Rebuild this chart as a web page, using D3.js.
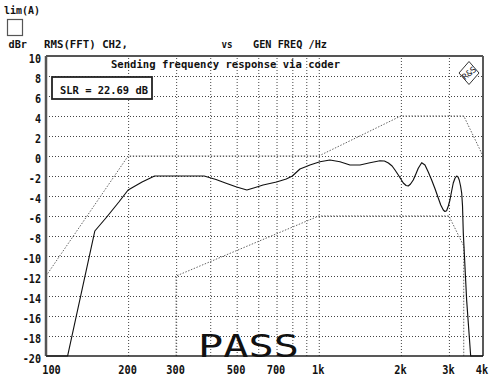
<!DOCTYPE html>
<html><head><meta charset="utf-8">
<script src="https://cdn.jsdelivr.net/npm/d3@7"></script>
<style>
html,body{margin:0;padding:0;background:#fff;}
svg{display:block;}
text{font-family:"DejaVu Sans Mono",monospace;fill:#111;}
</style></head><body>
<svg id="c" width="502" height="381"></svg>
<script>
// ---- data ----
const freqTicks = [100, 200, 300, 500, 700, 1000, 2000, 3000, 4000];
const freqLabels = ["100", "200", "300", "500", "700", "1k", "2k", "3k", "4k"];
const gridFreqs = [200, 300, 400, 500, 600, 700, 800, 900, 1000, 2000, 3000];
const dbTicks = [-20, -18, -16, -14, -12, -10, -8, -6, -4, -2, 0, 2, 4, 6, 8, 10];

const respFreq = [100, 120, 151, 167, 185, 200, 225, 250, 300, 380, 420, 460, 500, 545, 585, 625, 700, 760, 800, 853, 900, 928, 1010, 1099, 1196, 1301, 1416, 1540, 1676, 1740, 1800, 1857, 1903, 1957, 2041, 2090, 2128, 2170, 2220, 2270, 2316, 2384, 2451, 2520, 2593, 2670, 2742, 2800, 2861, 2900, 2942, 2985, 3026, 3070, 3112, 3160, 3203, 3240, 3273, 3310, 3341, 3365, 3387, 3484, 3605, 4000];
const respDb = [-20, -20, -7.5, -6.1, -4.6, -3.4, -2.6, -2.0, -2.0, -2.0, -2.35, -2.75, -3.1, -3.4, -3.15, -2.9, -2.6, -2.3, -2.0, -1.3, -1.05, -0.9, -0.57, -0.4, -0.57, -0.9, -0.9, -0.67, -0.47, -0.5, -0.7, -1.0, -1.4, -1.9, -2.7, -2.95, -3.0, -2.8, -2.4, -1.8, -1.23, -0.67, -0.9, -1.6, -2.4, -3.3, -4.2, -4.9, -5.4, -5.55, -5.47, -5.0, -4.4, -3.5, -2.7, -2.2, -2.0, -2.1, -2.4, -3.0, -3.7, -5.0, -7.7, -14.4, -20, -20];

const upperFreq = [100, 200, 1000, 2000, 3400, 4000];
const upperDb = [-12, 0, 0, 4, 4, 0];
const lowerFreq = [300, 300, 1000, 3000, 3400, 3400];
const lowerDb = [-20, -12, -6, -6, -9, -20];

const chartTitle = "Sending frequency response via coder";
const slrText = "SLR = 22.69 dB";
const verdict = "PASS";

// ---- layout ----
const X0 = 46, X1 = 483, Y0 = 56, Y1 = 356;
const svg = d3.select("#c");
const x = d3.scaleLog().domain([100, 4000]).range([X0, X1]);
const y = d3.scaleLinear().domain([-20, 10]).range([Y1, Y0]);

function txt(px, py, s, size, opts = {}) {
  const t = svg.append("text").attr("x", px).attr("y", py).text(s)
    .attr("font-size", size).attr("font-weight", opts.weight || "bold")
    .attr("text-anchor", opts.anchor || "start");
  if (opts.len) t.attr("textLength", opts.len).attr("lengthAdjust", "spacingAndGlyphs");
  return t;
}

// header texts
txt(4, 14, "lim(A)", 11, {len: 36});
svg.append("rect").attr("x", 7.5).attr("y", 19.5).attr("width", 15).attr("height", 16)
  .attr("fill", "none").attr("stroke", "#555").attr("stroke-width", 1.2);
txt(8.5, 47.5, "dBr", 11, {len: 18.5});
txt(44, 47.5, "RMS(FFT) CH2,", 11, {len: 84});
txt(221.5, 47.5, "vs", 11, {len: 11});
txt(253, 47.5, "GEN FREQ /Hz", 11, {len: 74});

// grid (via axes)
const gx = svg.append("g").attr("transform", `translate(0,${Y1})`)
  .call(d3.axisBottom(x).tickValues(gridFreqs).tickSize(-(Y1 - Y0)).tickFormat(""));
gx.select(".domain").remove();
gx.selectAll("line").attr("stroke", "#444").attr("stroke-width", 1).attr("stroke-dasharray", "1,2");
const gy = svg.append("g").attr("transform", `translate(${X0},0)`)
  .call(d3.axisLeft(y).tickValues(dbTicks.filter(d => d > -20 && d < 10)).tickSize(-(X1 - X0)).tickFormat(""));
gy.select(".domain").remove();
gy.selectAll("line").attr("stroke", "#444").attr("stroke-width", 1).attr("stroke-dasharray", "1,2");

// axes labels
const ay = svg.append("g").attr("transform", `translate(${X0},0)`)
  .call(d3.axisLeft(y).tickValues(dbTicks).tickSize(0).tickPadding(5));
ay.select(".domain").remove();
ay.selectAll("text").attr("font-size", 12).attr("font-weight", "bold")
  .attr("font-family", "DejaVu Sans Mono").attr("fill", "#111").attr("dy", "0.5em")
  .each(function(d) { const s = String(d); d3.select(this).text(s).attr("textLength", s.length * 6.1).attr("lengthAdjust", "spacingAndGlyphs"); });

const ax = svg.append("g").attr("transform", `translate(0,${Y1})`)
  .call(d3.axisBottom(x).tickValues(freqTicks).tickSize(0).tickFormat((d, i) => freqLabels[i]));
ax.select(".domain").remove();
ax.selectAll("text").attr("font-size", 12).attr("font-weight", "bold")
  .attr("font-family", "DejaVu Sans Mono").attr("fill", "#111").attr("y", 18).attr("dy", "0")
  .attr("dx", (d, i) => i === 0 ? 5 : (i === freqTicks.length - 1 ? -1.5 : -1))
  .each(function() { const s = d3.select(this).text(); d3.select(this).attr("textLength", s.length * 6.2).attr("lengthAdjust", "spacingAndGlyphs"); });

// limit masks
const line = d3.line().x(d => x(d[0])).y(d => y(d[1]));
svg.append("path").datum(upperFreq.map((f, i) => [f, upperDb[i]])).attr("d", line)
  .attr("fill", "none").attr("stroke", "#666").attr("stroke-width", 1).attr("stroke-dasharray", "1.5,1.5");
svg.append("path").datum(lowerFreq.map((f, i) => [f, lowerDb[i]])).attr("d", line)
  .attr("fill", "none").attr("stroke", "#666").attr("stroke-width", 1).attr("stroke-dasharray", "1.5,1.5");

// frame
svg.append("line").attr("x1", X0).attr("x2", X1).attr("y1", Y1).attr("y2", Y1).attr("stroke", "#222").attr("stroke-width", 1.5);
svg.append("line").attr("x1", X1).attr("x2", X1).attr("y1", Y0).attr("y2", Y1).attr("stroke", "#222").attr("stroke-width", 1.5);
svg.append("line").attr("x1", X0).attr("x2", X1).attr("y1", Y0).attr("y2", Y0).attr("stroke", "#555").attr("stroke-width", 2);
svg.append("line").attr("x1", X0).attr("x2", X0).attr("y1", Y0).attr("y2", Y1).attr("stroke", "#555").attr("stroke-width", 2.5);

// response curve
svg.append("path").datum(respFreq.map((f, i) => [f, respDb[i]]))
  .attr("d", line.curve(d3.curveLinear))
  .attr("fill", "none").attr("stroke", "#111").attr("stroke-width", 1.15).attr("stroke-linejoin", "round");

// title inside plot
txt(111, 68, chartTitle, 11, {len: 229});

// SLR box
svg.append("rect").attr("x", 52).attr("y", 77).attr("width", 100).attr("height", 22)
  .attr("fill", "#fff").attr("stroke", "#222").attr("stroke-width", 1.8);
txt(60, 93.5, slrText, 11, {len: 88});

// logo
const lc = [469, 73];
svg.append("path").attr("d", `M${lc[0]},${lc[1] - 11.5}L${lc[0] + 10},${lc[1]}L${lc[0]},${lc[1] + 11.5}L${lc[0] - 10},${lc[1]}Z`)
  .attr("fill", "#fff").attr("stroke", "#333").attr("stroke-width", 1);
svg.append("text").attr("x", lc[0]).attr("y", lc[1] + 3).attr("text-anchor", "middle")
  .attr("font-size", 8.5).attr("font-weight", "normal").attr("transform", `rotate(-40,${lc[0]},${lc[1]})`).text("R&S");

// verdict
txt(198, 356.5, verdict, 32, {weight: "normal", len: 101});
</script>
</body></html>
